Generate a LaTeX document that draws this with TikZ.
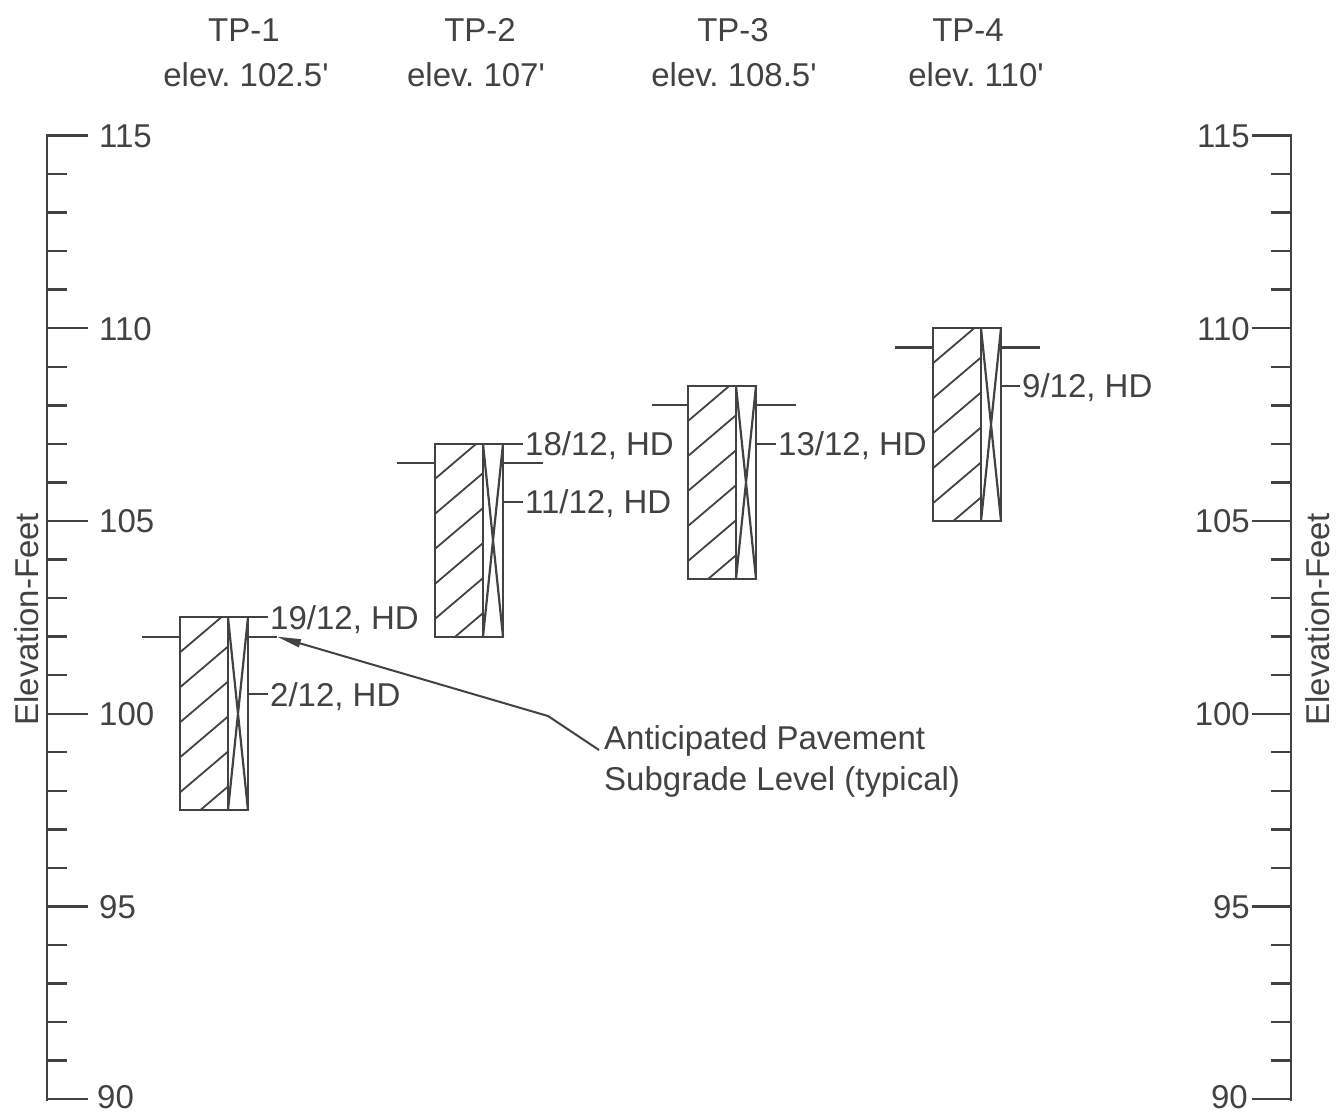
\documentclass[tikz,border=0pt]{standalone}
\usepackage{fontspec}
\setmainfont{Liberation Sans}[Ligatures=TeXOff]
\usetikzlibrary{arrows.meta}
\definecolor{ink}{RGB}{66,66,66}
\newcommand\ft{'}
\begin{document}
\begin{tikzpicture}[x=1pt,y=38.55pt,color=ink,
  lbl/.style={font=\fontsize{33}{36}\selectfont, text=ink, inner sep=0pt, text height=23.6pt, text depth=0pt},
  axisline/.style={line width=2.6pt, line cap=rect},
  tickline/.style={line width=2.4pt},
  hatch/.style={line width=1.8pt},
  boxline/.style={line width=2.2pt, line join=miter},
  leader/.style={line width=2pt}]
\useasboundingbox (0,89.617) rectangle (1343,118.515);

% left axis
\draw[axisline] (47,115) -- (47,90);
\foreach \e in {91,92,93,94,96,97,98,99,101,102,103,104,106,107,108,109,111,112,113,114}
  \draw[tickline] (47,\e) -- (67,\e);
\foreach \e in {90,95,...,115}
  \draw[tickline] (47,\e) -- (88,\e);
\foreach \e in {95,100,...,115}
  \node[lbl,anchor=west] (L\e) at (99,\e) {\e};
\node[lbl,anchor=west] (L90) at (97,90.06) {90};
\node[lbl,rotate=90] (ylabL) at (27,102.45) {Elevation-Feet};

% right axis
\draw[axisline] (1291,115) -- (1291,90);
\foreach \e in {91,92,93,94,96,97,98,99,101,102,103,104,106,107,108,109,111,112,113,114}
  \draw[tickline] (1271,\e) -- (1291,\e);
\foreach \e in {90,95,...,115}
  \draw[tickline] (1252,\e) -- (1291,\e);
\foreach \e in {95,100,...,115}
  \node[lbl,anchor=east] (R\e) at (1250,\e) {\e};
\node[lbl,anchor=east] (R90) at (1248,90.06) {90};
\node[lbl,rotate=90] (ylabR) at (1318,102.45) {Elevation-Feet};

% headers
\node[lbl] (t1) at (244,117.74) {TP-1};
\node[lbl] (e1) at (246,116.57) {elev.\ 102.5\ft};
\node[lbl] (t2) at (480,117.74) {TP-2};
\node[lbl] (e2) at (476,116.57) {elev.\ 107\ft};
\node[lbl] (t3) at (733,117.74) {TP-3};
\node[lbl] (e3) at (734,116.57) {elev.\ 108.5\ft};
\node[lbl] (t4) at (968,117.74) {TP-4};
\node[lbl] (e4) at (976,116.57) {elev.\ 110\ft};

% test pits
\foreach \pN/\pX/\pT/\pB/\pS/\pL/\pR in {1/180/102.5/97.5/102/38/29, 2/435/107/102/106.5/38/40, 3/688/108.5/103.5/108/36/40, 4/933/110/105/109.5/38/39}{
  \pgfmathsetmacro\pD{\pX+48}
  \pgfmathsetmacro\pE{\pX+68}
  \begin{scope}
    \clip (\pX,\pB) rectangle (\pD,\pT);
    \foreach \k in {1,...,7}{\draw[hatch] (\pX,{\pT-\k*0.908}) -- ++(60,1.323);}
  \end{scope}
  \draw[boxline] (\pD,\pT) -- (\pE,\pB) (\pE,\pT) -- (\pD,\pB);
  \draw[boxline] (\pX,\pB) rectangle (\pE,\pT) (\pD,\pT) -- (\pD,\pB);
  \coordinate (sl\pN) at ({\pX-\pL},\pS);
  \coordinate (sr\pN) at ({\pE+\pR},\pS);
  \draw[boxline] (sl\pN) -- (\pX,\pS) (\pE,\pS) -- (sr\pN);
}

% sample labels
\coordinate (c1a) at (248,102.5);
\coordinate (c1b) at (248,100.5);
\coordinate (c2a) at (503,107);
\coordinate (c2b) at (503,105.5);
\coordinate (c3a) at (756,107);
\coordinate (c4a) at (1001,108.5);
\node[lbl,anchor=west] (h1a) at (270,102.5) {19/12, HD};
\node[lbl,anchor=west] (h1b) at (270,100.5) {2/12, HD};
\node[lbl,anchor=west] (h2a) at (525,107) {18/12, HD};
\node[lbl,anchor=west] (h2b) at (525,105.5) {11/12, HD};
\node[lbl,anchor=west] (h3a) at (778,107) {13/12, HD};
\node[lbl,anchor=west] (h4a) at (1022,108.5) {9/12, HD};
\foreach \c/\h in {c1a/h1a,c1b/h1b,c2a/h2a,c2b/h2b,c3a/h3a,c4a/h4a}
  \draw[leader] (\c) -- ([xshift=-2pt]\h.west);

% note with leader arrow
\node[lbl,anchor=west] (n1) at (604,99.37) {Anticipated Pavement};
\node[lbl,anchor=west] (n2) at (604,98.31) {Subgrade Level (typical)};
\coordinate (bend) at (548,99.94);
\draw[leader,-{Triangle[length=24pt,width=8pt]}] ([xshift=-5pt]n1.south west) -- (bend) -- (sr1);
\end{tikzpicture}
\end{document}
